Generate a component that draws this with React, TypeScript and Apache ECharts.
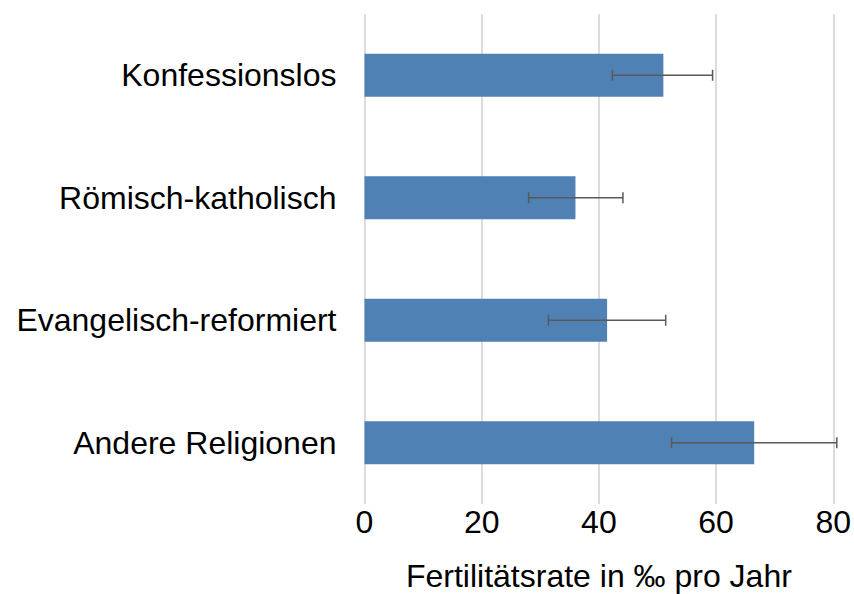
import React, { useEffect, useRef } from "react";
import * as echarts from "echarts";

const categories = ["Konfessionslos", "Römisch-katholisch", "Evangelisch-reformiert", "Andere Religionen"];
const values = [51.0, 36.0, 41.4, 66.5];
const errLow = [42.3, 28.0, 31.4, 52.4];
const errHigh = [59.4, 44.1, 51.4, 80.6];
const xTicks = [0, 20, 40, 60, 80];

const FONT = "'Liberation Sans', Arial, sans-serif";

export default function App() {
  const ref = useRef<HTMLDivElement>(null);
  useEffect(() => {
    if (!ref.current) return;
    const chart = echarts.init(ref.current, undefined, { renderer: "svg" });
    const errData = categories.map((c, i) => [i, errLow[i], errHigh[i]]);
    chart.setOption({
      animation: false,
      grid: { left: 364.5, right: 20.7, top: 14, bottom: 90, containLabel: false, outerBoundsMode: "none" },
      xAxis: {
        type: "value",
        min: xTicks[0],
        max: xTicks[xTicks.length - 1],
        interval: 20,
        name: "Fertilitätsrate in ‰ pro Jahr",
        nameLocation: "middle",
        nameGap: 56,
        nameTextStyle: { fontFamily: FONT, fontSize: 32, color: "#000" },
        axisLine: { show: false },
        axisTick: { show: false },
        axisLabel: { fontFamily: FONT, fontSize: 32, color: "#000", margin: 2 },
        splitLine: { show: true, lineStyle: { color: "#dcdcdc", width: 2 } },
      },
      yAxis: {
        type: "category",
        data: categories,
        inverse: true,
        axisLine: { show: false },
        axisTick: { show: false },
        axisLabel: { fontFamily: FONT, fontSize: 32, color: "#000", margin: 28 },
      },
      series: [
        {
          type: "bar",
          data: values,
          barWidth: "35%",
          itemStyle: { color: "#5081b4" },
          z: 2,
        },
        {
          type: "custom",
          data: errData,
          z: 3,
          renderItem: (params: any, api: any) => {
            const idx = api.value(0);
            const lo = api.coord([api.value(1), idx]);
            const hi = api.coord([api.value(2), idx]);
            const h = 5.5;
            const style = { stroke: "#595959", lineWidth: 1.5, fill: "none" };
            return {
              type: "group",
              children: [
                { type: "line", shape: { x1: lo[0], y1: lo[1], x2: hi[0], y2: hi[1] }, style },
                { type: "line", shape: { x1: lo[0], y1: lo[1] - h, x2: lo[0], y2: lo[1] + h }, style },
                { type: "line", shape: { x1: hi[0], y1: hi[1] - h, x2: hi[0], y2: hi[1] + h }, style },
              ],
            };
          },
          encode: { x: [1, 2], y: 0 },
        },
      ],
    });
    return () => chart.dispose();
  }, []);
  return <div ref={ref} style={{ width: 854, height: 594, position: "absolute", left: 0, top: 0 }} />;
}
